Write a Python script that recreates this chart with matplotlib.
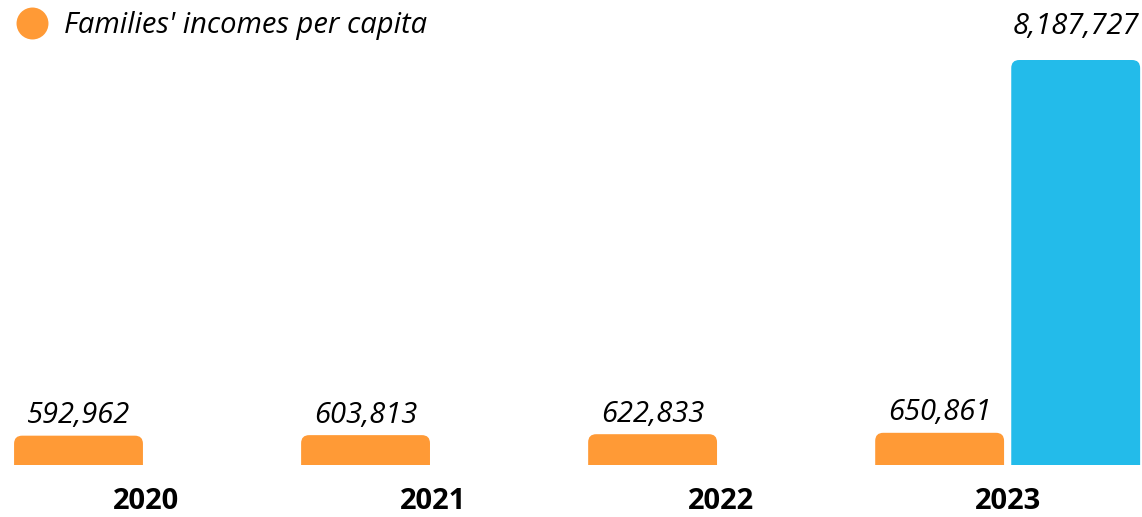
import numpy as np
import matplotlib as mpl
mpl.use('Agg')
import matplotlib.pyplot as plt
from matplotlib.patches import FancyBboxPatch
from matplotlib.lines import Line2D

plt.rcParams['font.family'] = ['Open Sans', 'DejaVu Sans']

# data
years = ['2020', '2021', '2022', '2023']
incomes = [592962, 603813, 622833, 650861]
second = [np.nan, np.nan, np.nan, 8187727]

orange = '#FF9A36'
blue = '#23BBEA'

fig = plt.figure(figsize=(11.42, 5.17), dpi=100)
ax = fig.add_axes([0, 52 / 517, 1, 465 / 517])

x = np.arange(len(years))
w = 0.449
off = 0.237

b1 = ax.bar(x - off, incomes, width=w, color=orange)
b2 = ax.bar(x + off, second, width=w, color=blue)

ax.set_xlim(-0.5105, 3.468)
ax.set_ylim(0, 9400800)

# swap plain rectangles for ones with rounded top corners
asp = 287 * 20217  # y units per x unit, to keep the corners round
r = 0.028
for bars in (b1, b2):
    for rect in bars:
        h = rect.get_height()
        if not np.isfinite(h) or h == 0:
            continue
        x0 = rect.get_x()
        wd = rect.get_width()
        fc = rect.get_facecolor()
        rect.set_visible(False)
        p = FancyBboxPatch((x0, -r * asp * 2), wd, h + r * asp * 2,
                           boxstyle=f'round,pad=0,rounding_size={r}',
                           mutation_aspect=asp, facecolor=fc, edgecolor='none')
        ax.add_patch(p)

# value labels
for xi, v in zip(x - off, incomes):
    ax.annotate(f'{v:,}', (xi, v), xytext=(0, 4), textcoords='offset points',
                ha='center', va='bottom', fontsize=21, style='italic')
for xi, v in zip(x + off, second):
    if np.isfinite(v):
        ax.annotate(f'{int(v):,}', (xi, v), xytext=(0, 14), textcoords='offset points',
                    ha='center', va='bottom', fontsize=21, style='italic')

ax.set_xticks(x)
ax.set_xticklabels(years, fontsize=21, fontweight='bold')
ax.tick_params(axis='x', length=0, pad=16)
ax.set_yticks([])
for s in ax.spines.values():
    s.set_visible(False)

handle = Line2D([], [], marker='o', linestyle='none', markersize=23,
                markerfacecolor=orange, markeredgecolor='none')
fig.legend([handle], ["Families' incomes per capita"], loc='upper left',
           bbox_to_anchor=(13 / 1142, 1 - 11 / 517), frameon=False,
           prop={'size': 21, 'style': 'italic'},
           handletextpad=0.45, borderaxespad=0, handlelength=1.3, borderpad=0)

plt.savefig('out.png', dpi=100)
